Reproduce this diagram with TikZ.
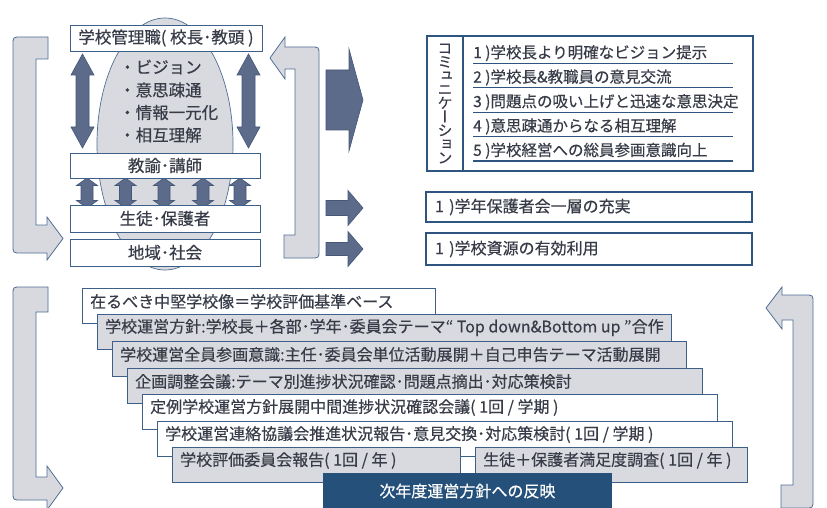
\documentclass[tikz,border=0pt]{standalone}
\usepackage{fontspec}
\setmainfont{Noto Sans CJK JP}[FakeBold=0.4]
\newfontfamily\vjp[RawFeature=+vert,FakeBold=0.4]{Noto Sans CJK JP}
\usetikzlibrary{shapes.geometric}
\definecolor{txt}{HTML}{383C48}
\definecolor{arrf}{HTML}{5D6B8A}
\definecolor{arrd}{HTML}{45577A}
\definecolor{bordc}{HTML}{3C6088}
\definecolor{commc}{HTML}{2D5580}
\definecolor{grayf}{HTML}{D9DADF}
\definecolor{darkb}{HTML}{245079}
\definecolor{brkf}{HTML}{D8D9DF}
\definecolor{brkd}{HTML}{4F6F94}
\newcommand\vdarrow[6]{%
 \filldraw[arrf, draw=arrd, line width=0.6pt] (#1,#2) -- ({#1+#4},{#2+#6}) -- ({#1+#5},{#2+#6}) -- ({#1+#5},{#3-#6}) -- ({#1+#4},{#3-#6}) -- (#1,#3) -- ({#1-#4},{#3-#6}) -- ({#1-#5},{#3-#6}) -- ({#1-#5},{#2+#6}) -- ({#1-#4},{#2+#6}) -- cycle;}
\newcommand\rarrow[6]{%
 \filldraw[arrf, draw=arrd, line width=0.6pt] (#1,{#2-#3}) -- (#4,{#2-#3}) -- (#4,{#2-#5}) -- (#6,#2) -- (#4,{#2+#5}) -- (#4,{#2+#3}) -- (#1,{#2+#3}) -- cycle;}
\newcommand\lft[1]{\makebox[260pt][l]{#1}}
\tikzset{
 brk/.style={fill=brkf, draw=brkd, line width=0.8pt},
 tlbox/.style={draw=bordc, line width=0.8pt, fill=white, inner sep=0pt, minimum width=190pt, minimum height=25pt, text=txt, font=\fontsize{16.5}{18}\selectfont},
 pt/.style={anchor=west, inner sep=0pt, text=txt, font=\fontsize{16.5}{18}\selectfont},
 item/.style={anchor=south west, inner sep=0pt, minimum height=20pt, text=txt, font=\fontsize{15.5}{17}\selectfont},
 uline/.style={draw=commc, line width=1.1pt},
 cbox/.style={draw=commc, line width=2pt, fill=white, text width=308pt, inner xsep=9pt, inner ysep=0pt, align=left, text=txt, font=\fontsize{16}{18}\selectfont},
 bbox/.style={draw=bordc, line width=0.8pt, inner sep=0pt, anchor=north west, minimum height=35pt},
 btext/.style={anchor=west, inner sep=0pt, text=txt, font=\fontsize{16}{18}\selectfont},
}
\begin{document}
\begin{tikzpicture}[x=1pt,y=-1pt]
\useasboundingbox (0,0) rectangle (827,508);
\clip (0,0) rectangle (827,508);
\fill[white] (0,0) rectangle (827,508);

% brackets
\path[brk] (48,59) -- (48,37) -- (21,37) .. controls (13,37) .. (13,45) -- (13,245) .. controls (13,253) .. (21,253) -- (47,253) -- (47,260) -- (63,238.5) -- (47,217) -- (47,225) -- (36,225) -- (36,59) -- cycle;
\path[brk] (270,58) -- (285,37) -- (285,47) -- (311,47) .. controls (319,47) .. (319,55) -- (319,250) .. controls (319,258) .. (311,258) -- (284,258) -- (284,235) -- (295,235) -- (295,69) -- (285,69) -- (285,79) -- cycle;
\path[brk] (48,312) -- (48,287) -- (21,287) .. controls (13,287) .. (13,295) -- (13,492) .. controls (13,500) .. (21,500) -- (47,500) -- (47,510) -- (63,488) -- (47,466) -- (47,477) -- (36,477) -- (36,312) -- cycle;
\path[brk] (766,308) -- (782,287) -- (782,295) -- (805,295) .. controls (813,295) .. (813,303) -- (813,500) .. controls (813,508) .. (805,508) -- (781,508) -- (781,485) -- (793,485) -- (793,320) -- (782,320) -- (782,329) -- cycle;

% oval
\node[ellipse, fill=grayf, draw=brkd, line width=0.7pt, minimum width=136pt, minimum height=252pt, inner sep=0pt] (oval) at (165,144) {};

% vertical double arrows
\vdarrow{82.5}{54}{148}{11.5}{6.5}{21}
\vdarrow{248.5}{54}{148}{11.5}{6.5}{21}
\foreach \cx in {87,125.5,164,203,240}{\vdarrow{\cx}{178}{208}{10.5}{6}{7.5}}

% top-left boxes
\node[tlbox, minimum width=192pt, minimum height=26pt] (mgr) at (166,38) {学校管理職( 校長･教頭 )};
\node[tlbox] (tch) at (165,165.5) {教諭･講師};
\node[tlbox, minimum height=27pt] (std) at (165,218.5) {生徒･保護者};
\node[tlbox, minimum height=27pt] (soc) at (165,252.5) {地域･社会};

\node[pt] (p1) at (119,67) {・ビジョン};
\node[pt] (p2) at (119,90) {・意思疎通};
\node[pt] (p3) at (119,112.5) {・情報一元化};
\node[pt] (p4) at (119,135) {・相互理解};

% right arrows
\rarrow{326}{100}{30}{349}{51}{363}
\rarrow{326}{208}{7.5}{348}{17.5}{363}
\rarrow{326}{249}{6.5}{348}{17.5}{363}

% communication box
\node[draw=commc, line width=2pt, fill=white, minimum width=326pt, minimum height=135pt, anchor=north west, inner sep=0pt] (comm) at (426,35) {};
\draw[commc, line width=1.6pt] ([xshift=37pt]comm.north west) -- ([xshift=37pt]comm.south west);
\node[font=\vjp\fontsize{15}{13.7}\selectfont, align=center, text=txt, inner sep=0pt] (vt) at (445,103.5) {コ\\ミ\\ュ\\ニ\\ケ\\ー\\シ\\ョ\\ン};

\node[item] (i1) at (473,63.3) {\lft{1 )学校長より明確なビジョン提示}};
\node[item] (i2) at (473,87.7) {\lft{2 )学校長\&教職員の意見交流}};
\node[item] (i3) at (473,112.3) {\lft{3 )問題点の吸い上げと迅速な意思決定}};
\node[item] (i4) at (473,136.7) {\lft{4 )意思疎通からなる相互理解}};
\node[item] (i5) at (473,161) {\lft{5 )学校経営への総員参画意識向上}};
\foreach \n in {i1,i2,i3,i4,i5}{\draw[uline] (\n.south west) -- (\n.south east);}

\node[cbox, minimum height=30pt] (pta) at (589,207) {1 )学年保護者会一層の充実};
\node[cbox, minimum height=32pt] (res) at (589,249) {1 )学校資源の有効利用};

% staircase
\node[bbox, fill=white, minimum width=353pt] (b1) at (82,288) {};
\node[btext] (t1) at ([xshift=8pt, yshift=-13.5pt]b1.north west) {在るべき中堅学校像＝学校評価基準ベース};
\node[bbox, fill=grayf, minimum width=574pt] (b2) at (97,314) {};
\node[btext] (t2) at ([xshift=8pt, yshift=-13.5pt]b2.north west) {学校運営方針:学校長＋各部･学年･委員会テーマ“ Top down\&Bottom up ”合作};
\node[bbox, fill=grayf, minimum width=574pt] (b3) at (112,341) {};
\node[btext] (t3) at ([xshift=8pt, yshift=-13.5pt]b3.north west) {学校運営全員参画意識:主任･委員会単位活動展開＋自己申告テーマ活動展開};
\node[bbox, fill=grayf, minimum width=575pt] (b4) at (127,368) {};
\node[btext] (t4) at ([xshift=8pt, yshift=-13.5pt]b4.north west) {企画調整会議:テーマ別進捗状況確認･問題点摘出･対応策検討};
\node[bbox, fill=white, minimum width=575pt] (b5) at (142,394) {};
\node[btext] (t5) at ([xshift=8pt, yshift=-13.5pt]b5.north west) {定例学校運営方針展開中間進捗状況確認会議( 1回 / 学期 )};
\node[bbox, fill=white, minimum width=575pt] (b6) at (157,421) {};
\node[btext] (t6) at ([xshift=8pt, yshift=-13.5pt]b6.north west) {学校運営連絡協議会推進状況報告･意見交換･対応策検討( 1回 / 学期 )};
\node[bbox, fill=grayf, minimum width=288pt] (b7) at (172,447) {};
\node[btext] (t7) at ([xshift=8pt, yshift=-13.5pt]b7.north west) {学校評価委員会報告( 1回 / 年 )};
\node[bbox, fill=grayf, minimum width=272pt] (b8) at (475,447) {};
\node[btext] (t8) at ([xshift=8pt, yshift=-13.5pt]b8.north west) {生徒＋保護者満足度調査( 1回 / 年 )};
\node[bbox, fill=darkb, draw=darkb, minimum width=288pt, minimum height=42pt] (b9) at (323,473) {};
\node[btext, anchor=center, text=white] (t9) at ([yshift=-18pt]b9.north) {次年度運営方針への反映};
\end{tikzpicture}
\end{document}
